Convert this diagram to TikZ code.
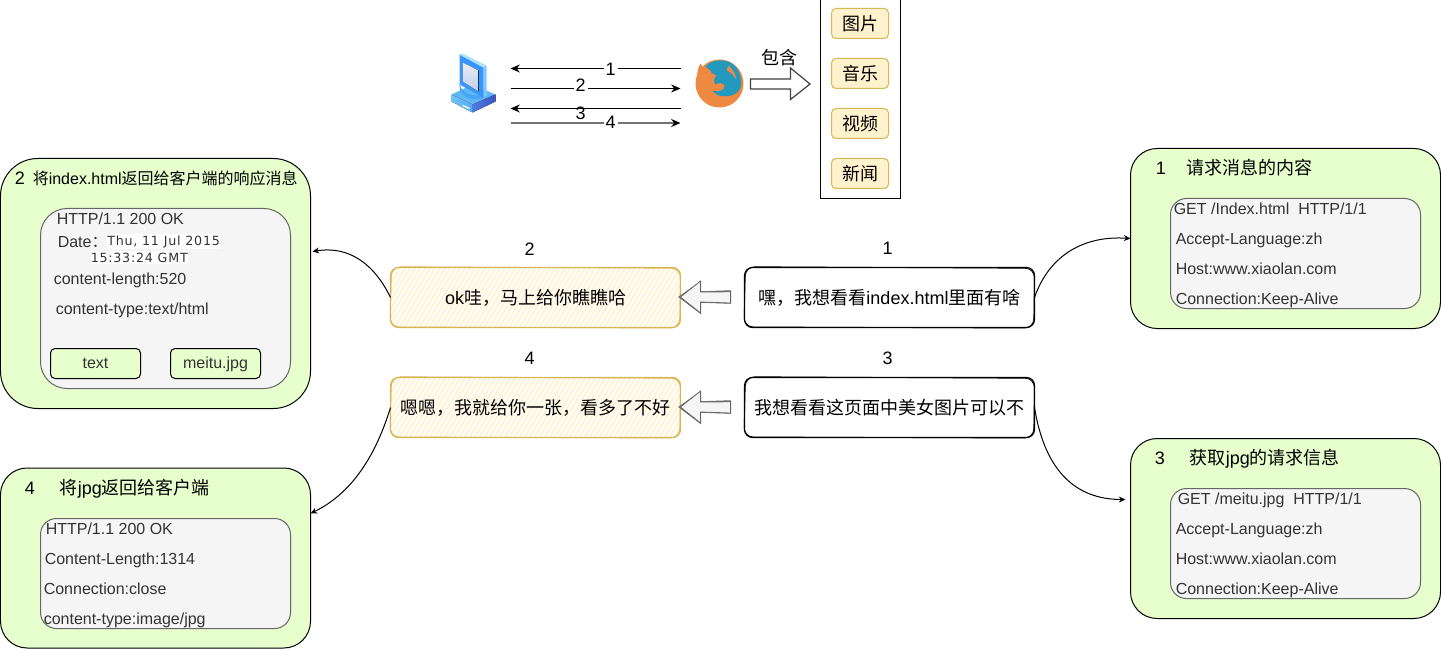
\documentclass[tikz,border=0pt]{standalone}
\usepackage{fontspec}
\setmainfont{Liberation Sans}
\newfontfamily\cjk{Noto Sans CJK SC}
\newfontfamily\datefont[LetterSpace=6]{DejaVu Sans}
\usetikzlibrary{arrows.meta}
\definecolor{grn}{HTML}{E6FFCC}
\definecolor{inn}{HTML}{F5F5F5}
\definecolor{innd}{HTML}{666666}
\definecolor{yel}{HTML}{FFF2CC}
\definecolor{yeld}{HTML}{D6B656}
\definecolor{txt}{HTML}{333333}
\definecolor{ffo}{HTML}{EE8942}
\definecolor{ffb}{HTML}{2499BE}
\tikzset{
  sz/.style 2 args={minimum width=#1*0.75pt,minimum height=#2*0.75pt,inner sep=0pt,outer sep=0pt},
  outerbox/.style={draw=black,fill=grn,line width=0.75pt},
  innerbox/.style={draw=innd,fill=inn,line width=0.75pt},
  tagbox/.style={draw=black,fill=grn,line width=0.75pt,rounded corners=3.4pt,text=txt},
  item/.style={draw=yeld,fill=yel,line width=0.75pt,rounded corners=3.4pt,font=\fontsize{13.5pt}{16pt}\selectfont\cjk},
  lbl/.style={anchor=west,inner sep=0pt,text height=9pt,text depth=2.5pt,yshift=-1.8pt,font=\fontsize{12pt}{14pt}\selectfont},
  biglbl/.style={anchor=west,inner sep=0pt,text height=10pt,text depth=2.5pt,yshift=-1.5pt,font=\fontsize{13.5pt}{16pt}\selectfont},
  ilbl/.style={lbl,text=txt},
  num/.style={inner sep=0pt,yshift=-0.6pt,font=\fontsize{13.5pt}{16pt}\selectfont},
  numbg/.style={num,fill=white,inner xsep=1.5pt,inner ysep=0pt},
  flow/.style={line width=0.75pt,-{Stealth[length=7pt,width=6pt,black]}},
  link/.style={line width=0.75pt,-{Stealth[length=5pt,width=4.5pt]}},
  msg/.style={sz={290}{60},font=\fontsize{13.5pt}{16pt}\selectfont},
}
\newcommand{\sketch}[5]{% x1 y1 x2 y2 colour
  \draw[#5,line width=0.9pt,rounded corners=6pt] (#1,#2) rectangle (#3,#4);
  \draw[#5,line width=0.6pt,rounded corners=7pt] (#1+1,#2-0.8) -- (#3,#2+0.8) -- (#3-0.8,#4+0.6) -- (#1-0.6,#4-0.6) -- cycle;
}
\newcommand{\hatch}[4]{% x1 y1 x2 y2
  \begin{scope}
  \clip[rounded corners=6pt] (#1,#2) rectangle (#3,#4);
  \foreach \i in {0,5,...,330} \draw[yel,line width=1.3pt] (#1+\i-36,#4) -- (#1+\i,#2);
  \end{scope}
}
\newcommand{\blockleft}[1]{% centre y
  \foreach \d/\w in {0/1.1,0.8/0.6}
    \draw[innd,fill=inn,line width=\w pt,line join=miter] (680+\d,#1) -- (701,#1-15-\d) -- (701,#1-5) -- (731,#1-6+\d) -- (731,#1+6) -- (701,#1+5) -- (701,#1+16) -- cycle;
}
\begin{document}
\begin{tikzpicture}[x=0.75pt,y=-0.75pt]
\useasboundingbox (0.5,0.5) rectangle (1441.5,649.5);

% --- computer icon
\node[sz={45}{58}] (pc) at (474.5,84) {};
\fill[color={rgb,255:red,95;green,184;blue,245}] (452,95) -- (473,85) -- (496,95) -- (473,105) -- cycle;
\fill[left color={rgb,255:red,110;green,195;blue,250},right color={rgb,255:red,85;green,170;blue,245}] (452,95) -- (473,105) -- (473,113) -- (452,102) -- cycle;
\fill[left color={rgb,255:red,80;green,125;blue,225},right color={rgb,255:red,55;green,85;blue,190}] (473,105) -- (496,95) -- (496,102) -- (473,113) -- cycle;
\fill[white,opacity=.8] (463,105) -- (470,108) -- (470,110) -- (463,107) -- cycle;
\fill[color={rgb,255:red,70;green,165;blue,245}] (460,84) .. controls (462,96) and (478,98) .. (484,94) -- (484,98) .. controls (475,103) and (461,98) .. (460,88) -- cycle;
\fill[color={rgb,255:red,55;green,150;blue,250}] (460,55) -- (484,68) -- (484,98) -- (460,85) -- cycle;
\fill[color={rgb,255:red,175;green,225;blue,255}] (460,55) -- (463,54) -- (487,66) -- (484,68) -- cycle;
\fill[color={rgb,255:red,130;green,200;blue,255}] (484,68) -- (487,66) -- (487,96) -- (484,98) -- cycle;
\fill[top color={rgb,255:red,235;green,238;blue,245},bottom color={rgb,255:red,190;green,205;blue,235}] (463,63) -- (479,71) -- (479,92) -- (463,82) -- cycle;

% --- firefox icon
\node[sz={48}{48},circle,fill=ffo] (ff) at (720,84) {};
\fill[ffo] (698,78) .. controls (697,72) and (699,68) .. (701,64) -- (704,69) -- (708,68) -- (710,74) -- cycle;
\fill[ffb] (706,67) .. controls (712,60) and (726,58) .. (735,66) .. controls (741,72) and (743,82) .. (741,88) .. controls (738,96) and (728,98) .. (719,96) .. controls (716,94) and (714,93) .. (713,91) .. controls (718,93) and (726,91) .. (725,86) .. controls (723,83) and (719,83) .. (716,85) .. controls (714,82) and (714,79) .. (717,76) .. controls (714,74) and (710,73) .. (711,71) -- cycle;
\fill[ffo] (729,66) .. controls (733,70) and (736,74) .. (737,80) .. controls (734,76) and (731,72) .. (727,71) -- cycle;

% --- flows between computer and browser
\coordinate (a1l) at (511,69); \coordinate (a1r) at (681,69);
\coordinate (a2l) at (511,89); \coordinate (a2r) at (681,89);
\coordinate (a3l) at (511,109); \coordinate (a3r) at (681,109);
\coordinate (a4l) at (511,123.5); \coordinate (a4r) at (681,123.5);
\draw[flow] (a1r) -- (a1l);
\draw[flow] (a2l) -- (a2r);
\draw[flow] (a3r) -- (a3l);
\draw[flow,line width=1.5pt,black!55] (a4l) -- (a4r);
\node[numbg] (n1) at (611,69) {1};
\node[numbg] (n2) at (581,85) {2};
\node[num] (n3) at (581,113) {3};
\node[numbg] (n4) at (611,122) {4};

% --- contains arrow
\draw[black!75,fill=white,line width=0.9pt] (751,79.5) -- (791,79.5) -- (791,68.5) -- (810.5,84.5) -- (791,100) -- (791,89.5) -- (751,89.5) -- cycle;
\node[inner sep=0pt,font=\fontsize{13.5pt}{16pt}\selectfont\cjk] (bao) at (780,58) {包含};

% --- media list
\node[sz={80}{199},draw=black,fill=white,line width=0.75pt] (media) at (861,99.5) {};
\node[item,sz={57}{30}] (m1) at (860.5,24) {图片};
\node[item,sz={57}{30}] (m2) at (860.5,74) {音乐};
\node[item,sz={57}{30}] (m3) at (860.5,124) {视频};
\node[item,sz={57}{30}] (m4) at (860.5,174) {新闻};

% --- box 2
\node[outerbox,sz={310}{250},rounded corners=28pt] (b2) at (156,284) {};
\node[innerbox,sz={250}{180},rounded corners=20pt] (i2) at (166,299) {};
\node[biglbl] (t2a) at (15,178) {2};
\node[lbl] (t2b) at (33,178) {{\cjk 将}index.html{\cjk 返回给客户端的响应消息}};
\node[ilbl] (l2a) at (57,218) {HTTP/1.1 200 OK};
\node[ilbl] (l2b) at (58,241) {Date{\cjk ：}};
\node[anchor=west,fill=white,inner xsep=0pt,inner ysep=1pt,text=txt,font=\fontsize{9.5pt}{11pt}\selectfont\datefont] (l2c) at (107.5,242) {Thu, 11 Jul 2015};
\node[anchor=west,fill=white,inner xsep=0pt,inner ysep=1pt,text=txt,font=\fontsize{9.5pt}{11pt}\selectfont\datefont] (l2d) at (91,258) {15:33:24 GMT};
\node[ilbl] (l2e) at (54,278) {content-length:520};
\node[ilbl] (l2f) at (56,308) {content-type:text/html};
\node[tagbox,sz={90}{30},font=\fontsize{12pt}{14pt}\selectfont,text height=9pt,text depth=2.5pt] (tg1) at (96,364) {\raisebox{-0.8pt}{text}};
\node[tagbox,sz={90}{30},font=\fontsize{12pt}{14pt}\selectfont,text height=9pt,text depth=2.5pt] (tg2) at (216,364) {\raisebox{-0.8pt}{meitu.jpg}};

% --- box 4
\node[outerbox,sz={310}{180},rounded corners=20pt] (b4) at (156,558.5) {};
\node[innerbox,sz={250}{110},rounded corners=12pt] (i4) at (166,574) {};
\node[biglbl] (t4a) at (25,488) {4};
\node[biglbl] (t4b) at (60,488) {{\cjk 将}jpg{\cjk 返回给客户端}};
\node[ilbl] (l4a) at (46,528) {HTTP/1.1 200 OK};
\node[ilbl] (l4b) at (45,558) {Content-Length:1314};
\node[ilbl] (l4c) at (44,588) {Connection:close};
\node[ilbl] (l4d) at (44,618) {content-type:image/jpg};

% --- box 1
\node[outerbox,sz={310}{180},rounded corners=20pt] (b1) at (1286,239) {};
\node[innerbox,sz={250}{110},rounded corners=12pt] (i1) at (1296,254) {};
\node[biglbl] (t1a) at (1156,168) {1};
\node[biglbl] (t1b) at (1187,168) {\cjk 请求消息的内容};
\node[ilbl] (l1a) at (1174,208) {GET /Index.html\ \ HTTP/1/1};
\node[ilbl] (l1b) at (1176,238) {Accept-Language:zh};
\node[ilbl] (l1c) at (1176,268) {Host:www.xiaolan.com};
\node[ilbl] (l1d) at (1176,298) {Connection:Keep-Alive};

% --- box 3
\node[outerbox,sz={310}{180},rounded corners=20pt] (b3) at (1286,529) {};
\node[innerbox,sz={250}{110},rounded corners=12pt] (i3) at (1296,544) {};
\node[biglbl] (t3a) at (1155,458) {3};
\node[biglbl] (t3b) at (1190,458) {{\cjk 获取}jpg{\cjk 的请求信息}};
\node[ilbl] (l3a) at (1178,498) {GET /meitu.jpg\ \ HTTP/1/1};
\node[ilbl] (l3b) at (1176,528) {Accept-Language:zh};
\node[ilbl] (l3c) at (1176,558) {Host:www.xiaolan.com};
\node[ilbl] (l3d) at (1176,588) {Connection:Keep-Alive};

% --- message boxes
\hatch{391}{268}{681}{328}
\hatch{391}{378}{681}{438}
\sketch{391}{268}{681}{328}{yeld}
\sketch{391}{378}{681}{438}{yeld}
\sketch{745}{268}{1035}{328}{black}
\sketch{745}{378}{1035}{438}{black}
\node[msg] (y2) at (536,298) {ok{\cjk 哇，马上给你瞧瞧哈}};
\node[msg] (y4) at (536,408) {\cjk 嗯嗯，我就给你一张，看多了不好};
\node[msg] (w1) at (890,298) {{\cjk 嘿，我想看看}index.html{\cjk 里面有啥}};
\node[msg] (w3) at (890,408) {\cjk 我想看看这页面中美女图片可以不};

\node[num] (c2) at (530,249) {2};
\node[num] (c1) at (888,248) {1};
\node[num] (c4) at (530,358) {4};
\node[num] (c3) at (888,358) {3};

\blockleft{297.5}
\blockleft{407.5}

% --- curved links
\draw[link] (w1.east) .. controls (1050,255) and (1085,236) .. (b1.west);
\draw[link] (w3.east) .. controls (1045,470) and (1075,500) .. (1126,500);
\draw[link] (y2.west) .. controls (375,265) and (350,246) .. (313,252);
\draw[link] (y4.west) .. controls (375,460) and (350,495) .. (311,514);
\end{tikzpicture}
\end{document}
